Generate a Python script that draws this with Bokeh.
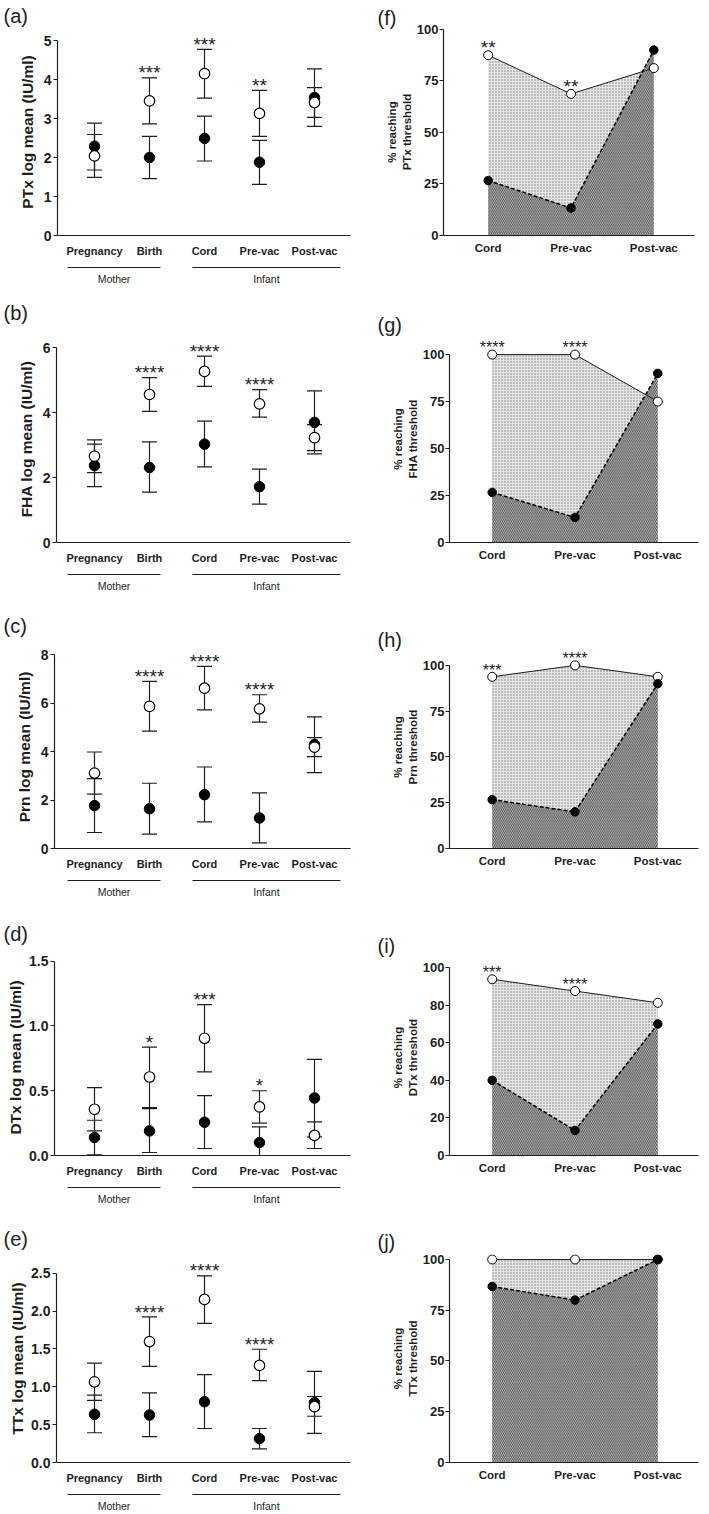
import numpy as np
from bokeh.plotting import figure
from bokeh.layouts import column, row
from bokeh.models import (Range1d, FixedTicker, PrintfTickFormatter, Whisker, TeeHead,
                          ColumnDataSource, LinearAxis)
from bokeh.core.properties import value
from bokeh.embed import file_html
from bokeh.resources import INLINE

# ---------------------------------------------------------------- data
timepoints = ["Pregnancy", "Birth", "Cord", "Pre-vac", "Post-vac"]
groups = ["Mother", "Infant"]
group_members = [(0, 1), (2, 4)]

# (a) PTx
ptx_open = [2.04, 3.45, 4.15, 3.13, 3.41]
ptx_open_lo = [1.49, 2.86, 3.52, 2.54, 3.03]
ptx_open_hi = [2.59, 4.04, 4.77, 3.72, 3.79]
ptx_filled = [2.29, 2.00, 2.49, 1.88, 3.54]
ptx_filled_lo = [1.68, 1.46, 1.91, 1.31, 2.80]
ptx_filled_hi = [2.88, 2.54, 3.06, 2.44, 4.27]
ptx_stars = ["", "***", "***", "**", ""]

# (b) FHA
fha_open = [2.66, 4.56, 5.27, 4.27, 3.23]
fha_open_lo = [2.15, 4.04, 4.81, 3.86, 2.83]
fha_open_hi = [3.16, 5.08, 5.74, 4.71, 3.63]
fha_filled = [2.37, 2.31, 3.03, 1.72, 3.70]
fha_filled_lo = [1.72, 1.55, 2.33, 1.18, 2.73]
fha_filled_hi = [3.03, 3.10, 3.74, 2.26, 4.67]
fha_stars = ["", "****", "****", "****", ""]

# (c) Prn
prn_open = [3.11, 5.86, 6.61, 5.76, 4.18]
prn_open_lo = [2.24, 4.84, 5.72, 5.21, 3.79]
prn_open_hi = [3.98, 6.89, 7.51, 6.34, 4.57]
prn_filled = [1.77, 1.64, 2.22, 1.26, 4.29]
prn_filled_lo = [0.66, 0.59, 1.10, 0.23, 3.13]
prn_filled_hi = [2.88, 2.69, 3.36, 2.29, 5.43]
prn_stars = ["", "****", "****", "****", ""]

# (d) DTx
dtx_open = [0.357, 0.606, 0.905, 0.375, 0.155]
dtx_open_lo = [0.19, 0.37, 0.645, 0.25, 0.054]
dtx_open_hi = [0.524, 0.837, 1.164, 0.50, 0.259]
dtx_filled = [0.139, 0.19, 0.257, 0.10, 0.444]
dtx_filled_lo = [0.005, 0.023, 0.054, 0.0, 0.144]
dtx_filled_hi = [0.272, 0.362, 0.462, 0.221, 0.742]
dtx_stars = ["", "*", "***", "*", ""]

# (e) TTx
ttx_open = [1.065, 1.598, 2.154, 1.282, 0.738]
ttx_open_lo = [0.82, 1.269, 1.838, 1.081, 0.611]
ttx_open_hi = [1.312, 1.923, 2.466, 1.496, 0.872]
ttx_filled = [0.637, 0.628, 0.803, 0.316, 0.792]
ttx_filled_lo = [0.393, 0.342, 0.449, 0.18, 0.385]
ttx_filled_hi = [0.889, 0.919, 1.162, 0.449, 1.205]
ttx_stars = ["", "****", "****", "****", ""]

# (f)-(j) % reaching threshold
infant_points = ["Cord", "Pre-vac", "Post-vac"]
ptx_pct_open = [87.5, 68.75, 81.25]
ptx_pct_filled = [26.67, 13.33, 90.0]
ptx_pct_stars = ["**", "**", ""]
fha_pct_open = [100.0, 100.0, 75.0]
fha_pct_filled = [26.67, 13.33, 90.0]
fha_pct_stars = ["****", "****", ""]
prn_pct_open = [93.75, 100.0, 93.75]
prn_pct_filled = [26.67, 20.0, 90.0]
prn_pct_stars = ["***", "****", ""]
dtx_pct_open = [93.75, 87.5, 81.25]
dtx_pct_filled = [40.0, 13.33, 70.0]
dtx_pct_stars = ["***", "****", ""]
ttx_pct_open = [100.0, 100.0, 100.0]
ttx_pct_filled = [86.67, 80.0, 100.0]
ttx_pct_stars = ["", "", ""]

# ---------------------------------------------------------------- layout / style
FONT = "Liberation Sans"
INK = "#1e1e1e"
ROWS = [(0, 288), (288, 315), (603, 303), (906, 314), (1220, 294)]
LEFT_W = 368
RIGHT_W = 341
L_CAT0, L_DX, L_FR = 94.0, 55.0, 350
R_DX = 82.8
TITLE_H = 24

# y0: page y of value 0, ytop: page y of top tick, fl: frame left, ft: frame top,
# lx/lb: panel letter left x / bottom y, lstd: y-label standoff
left_specs = [
    dict(y0=235, ytop=40.0, fl=57, ft=28, lx=3, lb=25, lstd=5),
    dict(y0=543, ytop=347.3, fl=56, ft=335, lx=3, lb=310, lstd=5),
    dict(y0=848, ytop=654.0, fl=54, ft=645, lx=3, lb=625, lstd=5),
    dict(y0=1155, ytop=960.7, fl=54, ft=959, lx=3, lb=928, lstd=2),
    dict(y0=1468, ytop=1273.3, fl=56, ft=1254, lx=3, lb=1243, lstd=2),
]
right_specs = [
    dict(y0=235, y100=25.0, fl=443, fr=694, cat0=487.7, ft=24, lx=377, lb=21, star_fs=19),
    dict(y0=542, y100=332.3, fl=449, fr=698, cat0=491.7, ft=311, lx=377, lb=310, star_fs=16),
    dict(y0=848, y100=638.7, fl=449, fr=698, cat0=491.7, ft=616, lx=377, lb=627, star_fs=16),
    dict(y0=1155, y100=945.0, fl=449, fr=698, cat0=491.7, ft=936, lx=377, lb=930, star_fs=16),
    dict(y0=1468, y100=1252.3, fl=449, fr=698, cat0=491.7, ft=1247, lx=377, lb=1242, star_fs=16),
]

left_panels = [
    ("(a)", "PTx log mean (IU/ml)", ptx_open, ptx_open_lo, ptx_open_hi,
     ptx_filled, ptx_filled_lo, ptx_filled_hi, ptx_stars, 5, 1, "%d"),
    ("(b)", "FHA log mean (IU/ml)", fha_open, fha_open_lo, fha_open_hi,
     fha_filled, fha_filled_lo, fha_filled_hi, fha_stars, 6, 2, "%d"),
    ("(c)", "Prn log mean (IU/ml)", prn_open, prn_open_lo, prn_open_hi,
     prn_filled, prn_filled_lo, prn_filled_hi, prn_stars, 8, 2, "%d"),
    ("(d)", "DTx log mean (IU/ml)", dtx_open, dtx_open_lo, dtx_open_hi,
     dtx_filled, dtx_filled_lo, dtx_filled_hi, dtx_stars, 1.5, 0.5, "%.1f"),
    ("(e)", "TTx log mean (IU/ml)", ttx_open, ttx_open_lo, ttx_open_hi,
     ttx_filled, ttx_filled_lo, ttx_filled_hi, ttx_stars, 2.5, 0.5, "%.1f"),
]
right_panels = [
    ("(f)", "PTx", ptx_pct_open, ptx_pct_filled, ptx_pct_stars, 25),
    ("(g)", "FHA", fha_pct_open, fha_pct_filled, fha_pct_stars, 25),
    ("(h)", "Prn", prn_pct_open, prn_pct_filled, prn_pct_stars, 25),
    ("(i)", "DTx", dtx_pct_open, dtx_pct_filled, dtx_pct_stars, 20),
    ("(j)", "TTx", ttx_pct_open, ttx_pct_filled, ttx_pct_stars, 25),
]


def style_axis(ax, size, standoff, tick_out, bold=True):
    ax.axis_line_color = INK
    ax.axis_line_width = 1.2
    ax.major_tick_line_color = INK
    ax.major_tick_line_width = 1.2
    ax.major_tick_out = tick_out
    ax.major_tick_in = 0
    ax.minor_tick_out = 0
    ax.minor_tick_in = 0
    ax.major_label_text_font = FONT
    ax.major_label_text_font_style = "bold" if bold else "normal"
    ax.major_label_text_font_size = size
    ax.major_label_text_color = INK
    ax.major_label_standoff = standoff


def style_title(p, letter, spec, row_top):
    p.title.text = letter
    p.title.align = "left"
    p.title.offset = spec["lx"] - spec["fl"]
    p.title.standoff = min(spec["ft"] - spec["lb"], spec["ft"] - row_top - TITLE_H)
    p.title.text_font = FONT
    p.title.text_font_size = "20px"
    p.title.text_font_style = "normal"
    p.title.text_color = INK


def make_left(spec, row_spec, letter, ylabel, op, op_lo, op_hi, fi, fi_lo, fi_hi,
              stars, ymax, step, fmt):
    top, h = row_spec
    y0, ft, fl = spec["y0"], spec["ft"], spec["fl"]
    s = (y0 - spec["ytop"]) / ymax          # pixels per unit
    y_end = (y0 - ft) / s
    x_start = -(L_CAT0 - fl) / L_DX
    x_end = (L_FR - L_CAT0) / L_DX
    p = figure(width=LEFT_W, height=h, x_range=Range1d(x_start, x_end),
               y_range=Range1d(0, y_end), output_backend="svg",
               toolbar_location=None, tools="",
               min_border_left=fl, min_border_right=LEFT_W - L_FR,
               min_border_top=ft - top, min_border_bottom=top + h - y0)
    p.outline_line_color = None
    p.grid.visible = False
    style_title(p, letter, spec, top)

    xs = list(range(len(timepoints)))
    xa = p.xaxis[0]
    xa.ticker = FixedTicker(ticks=xs)
    xa.major_label_overrides = {i: t for i, t in enumerate(timepoints)}
    style_axis(xa, "11px", 9, 0)
    xa.axis_label = " "
    xa.axis_label_text_font_size = "3px"
    xa.axis_label_standoff = 2

    # group axis (Mother / Infant) with an underline for each group
    pads = [(-27, 11), (-12, 26)]
    ends = [(a + pl / L_DX, b + pr / L_DX) for (a, b), (pl, pr) in zip(group_members, pads)]
    centers = [round((e0 + e1) / 2, 4) for e0, e1 in ends]
    seg1 = round((ends[0][1] - ends[0][0]) * L_DX)
    gap = round((ends[1][0] - ends[0][1]) * L_DX)
    seg2 = round((ends[1][1] - ends[1][0]) * L_DX)
    ga = LinearAxis(ticker=FixedTicker(ticks=centers),
                    major_label_overrides={c: g for c, g in zip(centers, groups)},
                    bounds=(ends[0][0], ends[1][1]))
    style_axis(ga, "10.5px", 5, 0, bold=False)
    ga.axis_line_dash = "%d %d %d %d" % (seg1, gap, seg2, 400)
    p.add_layout(ga, "below")

    ya = p.yaxis[0]
    ya.bounds = (0, ymax)
    ya.ticker = FixedTicker(ticks=list(np.arange(0, ymax + step / 2, step)))
    ya.formatter = PrintfTickFormatter(format=fmt)
    style_axis(ya, "14px", 2, 4)
    ya.axis_label = ylabel
    ya.axis_label_text_font = FONT
    ya.axis_label_text_font_size = "15.5px"
    ya.axis_label_text_font_style = "bold"
    ya.axis_label_text_color = INK
    ya.axis_label_standoff = spec["lstd"]

    for lo, hi in ((fi_lo, fi_hi), (op_lo, op_hi)):
        src = ColumnDataSource(dict(x=xs, lower=lo, upper=hi))
        w = Whisker(base="x", lower="lower", upper="upper", source=src, level="underlay",
                    line_color=INK, line_width=1.2,
                    upper_head=TeeHead(size=15, line_color=INK, line_width=1.2),
                    lower_head=TeeHead(size=15, line_color=INK, line_width=1.2))
        p.add_layout(w)

    p.scatter(xs, fi, marker="circle", size=10.5, fill_color="black", line_color="black")
    p.scatter(xs, op, marker="circle", size=10.5, fill_color="white", line_color="black",
              line_width=1.2)

    sx, sy, st = [], [], []
    for i, t in enumerate(stars):
        if t:
            sx.append(i)
            sy.append(max(op_hi[i], fi_hi[i]) + 5.0 / s)
            st.append(t)
    p.text(x=sx, y=sy, text=st, text_align="center", text_baseline="alphabetic",
           text_font=value(FONT), text_font_size=value("19px"), text_color=INK)
    return p


def make_right(spec, row_spec, letter, name, op, fi, stars, step):
    top, h = row_spec
    y0, ft, fl, fr, cat0 = spec["y0"], spec["ft"], spec["fl"], spec["fr"], spec["cat0"]
    s = (y0 - spec["y100"]) / 100.0
    y_end = (y0 - ft) / s
    x_start = -(cat0 - fl) / R_DX
    x_end = (fr - cat0) / R_DX
    p = figure(width=RIGHT_W, height=h, x_range=Range1d(x_start, x_end),
               y_range=Range1d(0, y_end), output_backend="svg",
               toolbar_location=None, tools="",
               min_border_left=fl - LEFT_W, min_border_right=LEFT_W + RIGHT_W - fr,
               min_border_top=ft - top, min_border_bottom=top + h - y0)
    p.outline_line_color = None
    p.grid.visible = False
    style_title(p, letter, spec, top)

    xs = list(range(len(infant_points)))
    xa = p.xaxis[0]
    xa.ticker = FixedTicker(ticks=xs)
    xa.major_label_overrides = {i: t for i, t in enumerate(infant_points)}
    style_axis(xa, "11.5px", 6, 0)

    ya = p.yaxis[0]
    ya.bounds = (0, 100)
    ya.ticker = FixedTicker(ticks=list(range(0, 101, step)))
    ya.formatter = PrintfTickFormatter(format="%d")
    style_axis(ya, "13px", 1, 4)
    ya.axis_label = "% reaching\n" + name + " threshold"
    ya.axis_label_text_font = FONT
    ya.axis_label_text_font_size = "11.5px"
    ya.axis_label_text_font_style = "bold"
    ya.axis_label_text_color = INK
    ya.axis_label_standoff = 1

    p.varea(x=xs, y1=[0] * len(xs), y2=op, fill_color="#e6e6e6",
            hatch_pattern="dot", hatch_color="#7a7a7a", hatch_scale=3, hatch_weight=1)
    p.varea(x=xs, y1=[0] * len(xs), y2=fi, fill_color="#cdcdcd",
            hatch_pattern="left_diagonal_line", hatch_color="#383838", hatch_scale=3.6,
            hatch_weight=0.9)
    p.line(xs, op, line_color=INK, line_width=1)
    p.line(xs, fi, line_color="black", line_width=1.5, line_dash="4 2")
    p.scatter(xs, op, marker="circle", size=9, fill_color="white", line_color="black",
              line_width=1)
    p.scatter(xs, fi, marker="circle", size=8.5, fill_color="black", line_color="black")

    sx, sy, st = [], [], []
    for i, t in enumerate(stars):
        if t:
            sx.append(i)
            sy.append(op[i] + 7.5 / s)
            st.append(t)
    p.text(x=sx, y=sy, text=st, text_align="center", text_baseline="alphabetic",
           text_font=value(FONT), text_font_size=value(str(spec["star_fs"]) + "px"),
           text_color=INK)
    return p


rows_out = []
for k in range(5):
    lp = make_left(left_specs[k], ROWS[k], *left_panels[k])
    rp = make_right(right_specs[k], ROWS[k], *right_panels[k])
    rows_out.append(row(lp, rp))

layout = column(*rows_out)
open("out.html", "w").write(file_html(layout, INLINE))
